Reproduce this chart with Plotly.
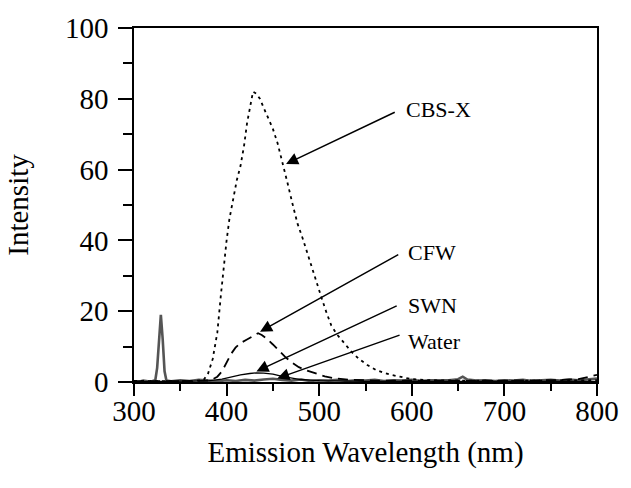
import plotly.graph_objects as go

# ---- data ----
cbsx_x = [300, 320, 340, 360, 375, 380, 385, 390, 394, 397, 400, 403, 407, 411, 415, 419,
          422, 425.5, 428.5, 432, 436, 440, 445, 450, 455, 459, 463, 466, 471,
          476.5, 482, 487, 492, 497, 503, 508, 513, 519, 526, 535, 543, 552, 562, 575, 587,
          600, 620, 650, 700, 750, 800]
cbsx_y = [0.3, 0.2, 0.3, 0.2, 0.5, 2.4, 6.5, 14, 25, 33, 40, 46, 52, 57, 61, 67,
          73, 77.5, 82, 81.5, 80, 77.5, 74.5, 71.5, 67.5, 63.6, 59.5, 56, 50.5,
          44.8, 40.7, 36.5, 32.5, 28, 23.4, 19.5, 16, 13.5, 11.2, 8.5, 6.5, 4.8, 3.3, 2.2, 1.5,
          0.8, 0.5, 0.4, 0.3, 0.4, 0.5]

cfw_x = [300, 350, 375, 383, 390, 395, 401, 405, 409.6, 415, 422, 428, 434, 438, 443, 450,
         457, 464, 471, 478, 487, 496, 506, 517, 535, 560, 600, 650, 700, 750, 780, 800]
cfw_y = [0.2, 0.2, 0.3, 0.5, 1.5, 3.0, 6.0, 8.0, 9.7, 11.0, 12.0, 13.0, 13.8, 13.3, 12.3, 10.6,
         8.7, 6.9, 5.4, 4.2, 3.2, 2.4, 1.6, 1.0, 0.6, 0.4, 0.3, 0.3, 0.4, 0.5, 0.8, 2.0]

swn_x = [300, 360, 380, 395, 405, 415, 425, 432, 440, 450, 460, 470, 480, 500, 550, 650, 800]
swn_y = [0.1, 0.1, 0.3, 0.8, 1.5, 2.0, 2.4, 2.6, 2.5, 2.2, 1.6, 1.1, 0.7, 0.4, 0.2, 0.2, 0.2]

water_x = [300, 305, 310, 315, 320, 323, 325, 327, 329, 331, 333, 335, 340, 350, 360, 370,
           380, 390, 400, 410, 420, 430, 440, 450, 460, 470, 480, 490, 500, 510, 520, 530,
           540, 550, 560, 570, 580, 590, 600, 610, 620, 630, 640, 650, 655, 660, 670, 680,
           690, 700, 710, 720, 730, 740, 750, 760, 770, 780, 790, 800]
water_y = [0.2, 0.1, 0.4, 0.2, 0.3, 0.5, 4, 12, 19, 12, 3, 0.4, 0.2, 0.5, 0.3, 0.6,
           0.4, 0.2, 0.5, 0.3, 0.6, 0.4, 0.7, 0.9, 0.6, 0.4, 0.7, 0.3, 0.5, 0.4, 0.6, 0.3,
           0.5, 0.4, 0.6, 0.3, 0.5, 0.4, 0.6, 0.3, 0.5, 0.4, 0.5, 0.8, 1.5, 0.7, 0.4, 0.5,
           0.3, 0.5, 0.4, 0.6, 0.3, 0.5, 0.6, 0.4, 0.7, 0.5, 0.8, 1.0]

labels = ["CBS-X", "CFW", "SWN", "Water"]
arrow_tip = [(464.2, 61.6), (436.1, 14.2), (432.2, 3.0), (454.7, 1.0)]
arrow_tail = [(583.2, 76.4), (587.0, 36.2), (585.3, 21.7), (588.4, 13.4)]
label_pos = [(591.6, 77.0), (593.7, 36.7), (593.7, 21.6), (593.7, 11.5)]

x_ticks = [300, 400, 500, 600, 700, 800]
y_ticks = [0, 20, 40, 60, 80, 100]

FONT = "Liberation Serif"

fig = go.Figure()
fig.add_trace(go.Scatter(x=water_x, y=water_y, mode="lines",
                         line=dict(color="#555555", width=2.6), name="Water"))
fig.add_trace(go.Scatter(x=swn_x, y=swn_y, mode="lines",
                         line=dict(color="black", width=1.3), name="SWN"))
fig.add_trace(go.Scatter(x=cfw_x, y=cfw_y, mode="lines",
                         line=dict(color="black", width=1.8, dash="10px,6px"), name="CFW"))
fig.add_trace(go.Scatter(x=cbsx_x, y=cbsx_y, mode="lines",
                         line=dict(color="black", width=1.8, dash="3px,4px"), name="CBS-X"))

for lab, tip, tail, pos in zip(labels, arrow_tip, arrow_tail, label_pos):
    fig.add_annotation(x=tip[0], y=tip[1], ax=tail[0], ay=tail[1],
                       xref="x", yref="y", axref="x", ayref="y",
                       text="", showarrow=True, arrowhead=2, arrowsize=1.6,
                       arrowwidth=1.5, arrowcolor="black", standoff=0)
    fig.add_annotation(x=pos[0], y=pos[1], xref="x", yref="y", text=lab,
                       showarrow=False, xanchor="left", yanchor="middle",
                       font=dict(family=FONT, size=22, color="black"))

axis_common = dict(showgrid=False, zeroline=False, showline=True, linecolor="black",
                   linewidth=1.5, mirror=True, ticks="outside", tickcolor="black",
                   tickwidth=1.5, tickfont=dict(family=FONT, size=29, color="black"))

fig.update_xaxes(range=[300, 800], tickvals=x_ticks, ticklen=12, ticklabelstandoff=-10,
                 minor=dict(dtick=50, ticklen=7, tickcolor="black", tickwidth=1.5, ticks="outside"),
                 title=dict(text="Emission Wavelength (nm)",
                            font=dict(family=FONT, size=29, color="black"), standoff=16),
                 **axis_common)
fig.update_yaxes(range=[0, 100], tickvals=y_ticks, ticklen=14, ticklabelstandoff=4,
                 minor=dict(dtick=10, ticklen=9, tickcolor="black", tickwidth=1.5, ticks="outside"),
                 title=dict(text="Intensity",
                            font=dict(family=FONT, size=29, color="black"), standoff=28),
                 **axis_common)

fig.update_layout(width=631, height=488, showlegend=False,
                  plot_bgcolor="white", paper_bgcolor="white",
                  margin=dict(l=134, r=22, t=17, b=106))

fig.write_html("out.html", config={"displayModeBar": False},
               post_script="document.body.style.margin='0';document.body.style.padding='0';")
